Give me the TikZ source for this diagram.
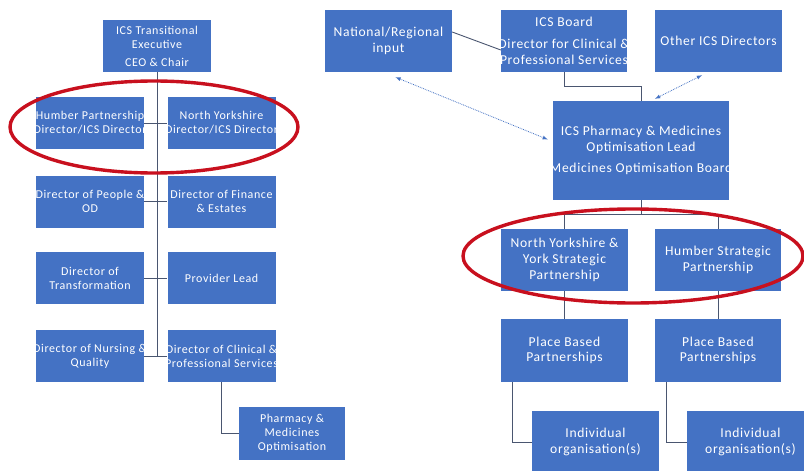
\documentclass[tikz,border=0pt]{standalone}
\usepackage{fontspec}
\setmainfont{Carlito}[LetterSpace=5]
\definecolor{boxblue}{HTML}{4472C4}
\definecolor{ringred}{HTML}{C8101E}
\definecolor{linegrey}{HTML}{4A5670}
\newcommand\orgsmall{\fontsize{12}{14}\selectfont}
\newcommand\orglarge{\fontsize{13.6}{15.7}\selectfont}
\tikzset{
  boxtext/.style = {text=white, align=center, inner sep=0pt},
}
\begin{document}
\begin{tikzpicture}[x=1pt, y=-1pt,
  main/.style = {fill=boxblue, text=white, align=center, inner sep=0pt},
  lbox/.style = {main, minimum width=108pt, minimum height=52pt, font=\orgsmall},
  rbox/.style = {main, minimum width=127pt, minimum height=62pt, font=\orglarge},
  lcut/.style = {lbox, path picture={\node[boxtext, font=\orgsmall] at (path picture bounding box.center) {#1};}},
  rcut/.style = {main, path picture={\node[boxtext, font=\orglarge] at (path picture bounding box.center) {#1};}},
  link/.style = {draw=linegrey, line width=0.9pt},
  dotlink/.style = {draw=boxblue, densely dotted, line width=0.8pt, latex-latex},
  ring/.style = {draw=ringred, line width=3.4pt}]
\path[fill=white, use as bounding box] (0,0) rectangle (804,471);
% left chart
\node[lbox] (exec) at (157,46) {ICS Transitional\\Executive\\[4pt]CEO \& Chair};
\node[lcut={Humber Partnership\\Director/ICS Director}] (humber) at (90,123) {};
\node[lcut={North Yorkshire\\Director/ICS Director}] (nyork) at (221.5,123) {};
\node[lcut={Director of People \&\\OD}] (people) at (90,201.5) {};
\node[lcut={Director of Finance\\\& Estates}] (finance) at (221.5,201.5) {};
\node[lbox] (transf) at (90,278) {Director of\\Transformation};
\node[lbox] (provider) at (221.5,278) {Provider Lead};
\node[lcut={Director of Nursing \&\\Quality}] (nursing) at (90,356) {};
\node[lcut={Director of Clinical \&\\Professional Services}] (clinical) at (221.5,356) {};
\node[lbox, minimum width=106pt, minimum height=53pt] (pharm) at (292,433.5) {Pharmacy \&\\Medicines\\Optimisation};
\draw[link] (exec.south) -- (exec.south |- nursing.east);
\draw[link] (humber) -- (nyork);
\draw[link] (people) -- (finance);
\draw[link] (transf) -- (provider);
\draw[link] (nursing) -- (clinical);
\draw[link] (clinical.south) |- (pharm.west);
% right chart
\node[rbox] (national) at (388.5,41) {National/Regional\\input};
\node[rcut={ICS Board\\[6pt]Director for Clinical \&\\Professional Services}, minimum width=126pt, minimum height=62pt] (board) at (564,41) {};
\node[rbox] (other) at (718.5,41) {Other ICS Directors};
\node[rcut={ICS Pharmacy \& Medicines\\Optimisation Lead\\[5pt]Medicines Optimisation Board}, minimum width=176pt, minimum height=99pt] (mo) at (641,150.5) {};
\node[rbox] (nyy) at (564.5,260) {North Yorkshire \&\\York Strategic\\Partnership};
\node[rbox, minimum width=126pt] (hsp) at (718,260) {Humber Strategic\\Partnership};
\node[rbox, minimum height=63pt] (place1) at (564.5,350.5) {Place Based\\Partnerships};
\node[rbox, minimum width=126pt, minimum height=63pt] (place2) at (718,350.5) {Place Based\\Partnerships};
\node[rbox] (indiv1) at (595.5,442) {Individual\\organisation(s)};
\node[rbox] (indiv2) at (750.5,442) {Individual\\organisation(s)};
\draw[link] ([yshift=9pt]national.east) -- ([yshift=-9pt]board.west);
\draw[link] (board.south) -- ++(0,14) -| (mo.north);
\draw[link] (mo.south) -- ++(0,14) coordinate (split);
\draw[link] (split) -| (nyy.north);
\draw[link] (split) -| (hsp.north);
\draw[link] (nyy) -- (place1);
\draw[link] (hsp) -- (place2);
\draw[link] ([xshift=12pt]place1.south west) |- (indiv1.west);
\draw[link] ([xshift=12pt]place2.south west) |- (indiv2.west);
\draw[dotlink] ([xshift=7pt, yshift=-5pt]national.south) -- ([xshift=-5pt, yshift=11pt]mo.west);
\draw[dotlink] ([xshift=-16.5pt, yshift=-3pt]other.south) -- ([xshift=14pt, yshift=2pt]mo.north);
% highlight rings
\draw[ring] (154,127) ellipse [x radius=144pt, y radius=46pt];
\draw[ring] (633,256) ellipse [x radius=170pt, y radius=47pt];
\end{tikzpicture}
\end{document}
